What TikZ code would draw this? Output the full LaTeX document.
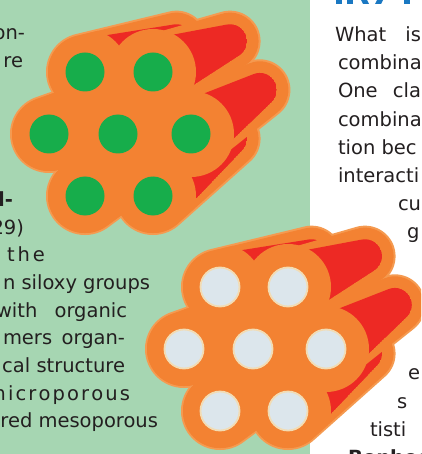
\documentclass[tikz,border=0pt]{standalone}
\usepackage{fontspec}
\setmainfont{DejaVu Sans}
\usetikzlibrary{calc}

\definecolor{mint}{HTML}{A6D6B2}
\definecolor{tubeorange}{HTML}{F38232}
\definecolor{tubeedge}{HTML}{F59A50}
\definecolor{tubered}{HTML}{ED2924}
\definecolor{poregreen}{HTML}{17AD4B}
\definecolor{porepale}{HTML}{DCE6EC}
\definecolor{porerim}{HTML}{F2DCB4}
\definecolor{ink}{HTML}{231F20}
\definecolor{headblue}{HTML}{1A78C2}

% Outline of one tapering tube: front disc (#1, radius #3), back disc (#2, radius #4)
% and the two outer tangents joining them.
\newcommand\hullpath[4]{%
  let \p1=(#1), \p2=(#2),
      \n1={atan2(\y2-\y1,\x2-\x1)},
      \n2={veclen(\x2-\x1,\y2-\y1)},
      \n3={acos((#3-#4)/\n2)} in
  (#1) circle[radius=#3pt] (#2) circle[radius=#4pt]
  ($(#1)+(\n1-\n3:#3pt)$) -- ($(#2)+(\n1-\n3:#4pt)$) --
  ($(#2)+(\n1+\n3:#4pt)$) -- ($(#1)+(\n1+\n3:#3pt)$) -- cycle}
% Outline of a whole bundle (prefix #1)
\newcommand\bundlepath[1]{%
  \hullpath{#1B1}{k#1B1}{37}{28.6} \hullpath{#1A1}{k#1A1}{37}{28.6}
  \hullpath{#1C1}{k#1C1}{37}{28.6} \hullpath{#1B2}{k#1B2}{37}{28.6}
  \hullpath{#1A2}{k#1A2}{37}{28.6} \hullpath{#1C2}{k#1C2}{37}{28.6}
  \hullpath{#1B3}{k#1B3}{37}{28.6}}

\begin{document}
\begin{tikzpicture}[x=1pt,y=-1pt,
  txt/.style={font=\fontsize{19.5}{28}\selectfont, text=ink, inner sep=0pt, outer sep=0pt},
  boldtxt/.style={txt, font=\fontsize{19.5}{28}\selectfont\bfseries},
  ltxt/.style={txt, anchor=base east},
  rtxt/.style={txt, anchor=base west},
  greenpore/.style={fill=poregreen},
  palepore/.style={fill=porepale, draw=porerim, line width=1.8pt},
  headbit/.style={fill=headblue}]
\useasboundingbox (0,0) rectangle (421,454);
\clip (0,0) rectangle (421,454);
\fill[white] (0,0) rectangle (421,454);
\fill[mint] (0,0) rectangle (310,454);

% feet of the blue heading letters along the top edge
\fill[headbit] (336,0) rectangle (342,4);
\fill[headbit] (347,0) rectangle (353,4);
\fill[headbit] (361,0) -- (367,0) -- (369,4) -- (363,4) -- cycle;
\fill[headbit] (377,0) -- (383,0) -- (381,4) -- (375,4) -- cycle;
\fill[headbit] (404,0) rectangle (410,4);

% left column
\node[ltxt] (l0) at (25,40) {on-};
\node[ltxt] (l1) at (23,67.7) {re};
\node[boldtxt, anchor=base east] (l6) at (13,206) {d-};
\node[ltxt] (l7) at (24,234) {29)};
\node[ltxt] (l8) at (45,261.6) {\makebox[38pt][s]{t\hfil h\hfil e}};
\node[ltxt] (l9) at (150,289.3) {n siloxy groups};
\node[ltxt] (l10) at (127,317) {\makebox[131pt][s]{with organic}};
\node[ltxt] (l11) at (125,344.7) {\makebox[122pt][s]{mers organ-}};
\node[ltxt] (l12) at (125,372.4) {cal structure};
\node[ltxt] (l13) at (130,400.1) {\makebox[143pt][s]{m\hfil i\hfil c\hfil r\hfil o\hfil p\hfil o\hfil r\hfil o\hfil u\hfil s}};
\node[ltxt] (l14) at (158,427.8) {red mesoporous};

% right column
\node[rtxt] (r0) at (335,41.5) {\makebox[86pt][s]{What is}};
\node[rtxt] (r1) at (338,69.7) {combina};
\node[rtxt] (r2) at (338,97.9) {\makebox[83pt][s]{One cla}};
\node[rtxt] (r3) at (338,126.1) {combina};
\node[rtxt] (r4) at (338,154.3) {tion bec};
\node[rtxt] (r5) at (338,182.5) {interacti};
\node[rtxt] (r6) at (398,210.7) {cu};
\node[rtxt] (r7) at (407,238.9) {g};
\node[rtxt] (r12) at (408,379.9) {e};
\node[rtxt] (r13) at (397,408.1) {s};
\node[rtxt] (r14) at (370,436.3) {tisti};
\node[boldtxt, anchor=base west] (r15) at (348,464.5) {Bonhoe};

% two bundles of seven tubes, receding towards a vanishing point
\foreach \bn/\dx/\dy/\ps in {t/0/0/greenpore, u/135/215/palepore} {
  \foreach \tn/\tx/\ty in {B1/49/134, A1/85/72, C1/85/196, B2/118/134, A2/153/72, C2/153/196, B3/191/134} {
    \coordinate (\bn\tn) at (\tx+\dx,\ty+\dy);
    \coordinate (k\bn\tn) at ($(\bn\tn)!0.215!(511+\dx,-71+\dy)$);
  }
  % pale rim round the whole bundle
  \foreach \tn in {B1,A1,C1,B2,A2,C2,B3}
    \fill[tubeedge] \hullpath{\bn\tn}{k\bn\tn}{39}{30.6};
  % solid core between the front faces
  \fill[tubeorange] (\bn A1) -- (\bn A2) -- (\bn B3) -- (\bn C2) -- (\bn C1) -- (\bn B1) -- cycle;
  % each tube: body, red flank, front rim
  \foreach \tn in {B1,A1,C1,B2,A2,C2,B3} {
    \fill[tubeorange] \hullpath{\bn\tn}{k\bn\tn}{37}{28.6};
    \begin{scope}
      \clip \hullpath{\bn\tn}{k\bn\tn}{33}{17};
      \fill[tubered] \hullpath{\bn\tn}{k\bn\tn}{33}{17};
    \end{scope}
    \begin{scope}
      \clip \bundlepath{\bn};
      \fill[tubeorange] (\bn\tn) circle[radius=43pt];
    \end{scope}
  }
  % pores
  \foreach \tn in {B1,A1,C1,B2,A2,C2,B3}
    \path[\ps] (\bn\tn) circle[radius=19.5pt];
}
\end{tikzpicture}
\end{document}
